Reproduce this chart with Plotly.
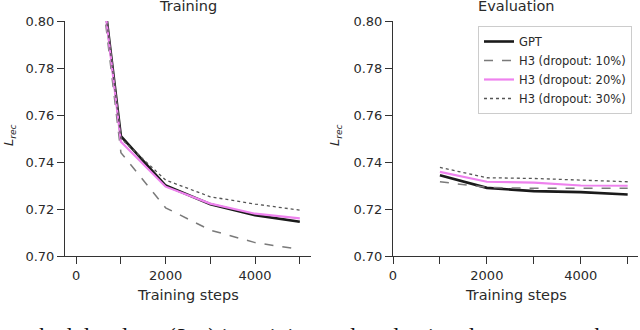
import plotly.graph_objects as go

# ---- data ----
steps_train = [0, 1000, 2000, 3000, 4000, 5000]
steps_eval = [1000, 2000, 3000, 4000, 5000]

train_gpt = [0.908, 0.751, 0.730, 0.722, 0.7174, 0.7146]
train_h3_10 = [0.905, 0.744, 0.7205, 0.711, 0.7057, 0.7028]
train_h3_20 = [0.908, 0.7486, 0.7295, 0.7223, 0.718, 0.716]
train_h3_30 = [0.908, 0.750, 0.7323, 0.7252, 0.7221, 0.7195]

eval_gpt = [0.7344, 0.729, 0.7276, 0.7272, 0.7262]
eval_h3_10 = [0.7316, 0.7292, 0.7288, 0.7288, 0.7288]
eval_h3_20 = [0.7358, 0.7316, 0.7312, 0.7300, 0.7299]
eval_h3_30 = [0.7377, 0.7333, 0.7330, 0.7323, 0.7316]

names = ["GPT", "H3 (dropout: 10%)", "H3 (dropout: 20%)", "H3 (dropout: 30%)"]
panel_titles = ["Training", "Evaluation"]
x_tickvals = [0, 1000, 2000, 3000, 4000, 5000]
x_ticktext = ["0", "", "2000", "", "4000", ""]
y_tickvals = [0.70, 0.72, 0.74, 0.76, 0.78, 0.80]
caption_pre = "sked data loss"
caption_main = "(<i>L</i><sub>rec</sub>) in training and evaluation datasets over the"

styles = [
    dict(color="#1a1a1a", width=2.6, dash="solid"),
    dict(color="#7a7a7a", width=1.5, dash="dash"),
    dict(color="#ee82ee", width=2.2, dash="solid"),
    dict(color="#555555", width=1.3, dash="dot"),
]

fig = go.Figure()

train_series = [train_gpt, train_h3_10, train_h3_20, train_h3_30]
eval_series = [eval_gpt, eval_h3_10, eval_h3_20, eval_h3_30]

for i, ys in enumerate(train_series):
    fig.add_trace(go.Scatter(x=steps_train, y=ys, mode="lines", name=names[i],
                             line=styles[i], showlegend=False, hoverinfo="skip",
                             xaxis="x", yaxis="y"))
for i, ys in enumerate(eval_series):
    fig.add_trace(go.Scatter(x=steps_eval, y=ys, mode="lines", name=names[i],
                             line=styles[i], showlegend=True, hoverinfo="skip",
                             xaxis="x2", yaxis="y2"))

W, H = 640, 330
ydom = [(H - 256) / H, (H - 21) / H]
TXT = "#2a2a2a"

axis_common = dict(
    showline=True, linecolor="#333333", linewidth=1,
    ticks="outside", ticklen=7, tickwidth=1, tickcolor="#333333",
    showgrid=False, zeroline=False, mirror=False,
    tickfont=dict(family="DejaVu Sans", size=13, color=TXT),
)

fig.update_layout(
    width=W, height=H,
    margin=dict(l=0, r=0, t=0, b=0, autoexpand=False),
    plot_bgcolor="white", paper_bgcolor="white",
    xaxis=dict(domain=[65 / W, 311 / W], range=[-250, 5250],
               tickvals=x_tickvals, ticktext=x_ticktext, anchor="y",
               **axis_common),
    yaxis=dict(domain=ydom, range=[0.70, 0.80], tickvals=y_tickvals,
               tickformat=".2f", anchor="x", **axis_common),
    xaxis2=dict(domain=[393 / W, 638 / W], range=[0, 5220],
                tickvals=x_tickvals, ticktext=x_ticktext, anchor="y2",
                **axis_common),
    yaxis2=dict(domain=ydom, range=[0.70, 0.80], tickvals=y_tickvals,
                tickformat=".2f", anchor="x2", **axis_common),
    legend=dict(x=632 / W, y=1 - 26 / H, xanchor="right", yanchor="top",
                bordercolor="#cccccc", borderwidth=1, bgcolor="white",
                font=dict(family="DejaVu Sans", size=11.5, color=TXT),
                tracegroupgap=0, itemwidth=30),
)

annotations = []
for cx, t in [(188, panel_titles[0]), (516, panel_titles[1])]:
    annotations.append(dict(x=cx / W, y=1 - 6 / H, xref="paper", yref="paper",
                            text=t, showarrow=False, xanchor="center", yanchor="middle",
                            font=dict(family="DejaVu Sans", size=14.5, color=TXT)))
for cx in [188, 516]:
    annotations.append(dict(x=cx / W, y=1 - 295 / H, xref="paper", yref="paper",
                            text="Training steps", showarrow=False,
                            xanchor="center", yanchor="middle",
                            font=dict(family="DejaVu Sans", size=14.5, color=TXT)))
for cx in [9, 335]:
    annotations.append(dict(x=cx / W, y=1 - 135 / H, xref="paper", yref="paper",
                            text="<i>L</i><sub><i>rec</i></sub>", showarrow=False,
                            textangle=-90, xanchor="center", yanchor="middle",
                            font=dict(family="DejaVu Sans", size=13, color=TXT)))
annotations.append(dict(x=160 / W, y=8 / H, xref="paper", yref="paper",
                        text=caption_pre, showarrow=False, xanchor="right", yanchor="top",
                        font=dict(family="Liberation Serif", size=23, color="#111111")))
annotations.append(dict(x=166 / W, y=8 / H, xref="paper", yref="paper",
                        text=caption_main, showarrow=False, xanchor="left", yanchor="top",
                        font=dict(family="Liberation Serif", size=23, color="#111111")))
fig.update_layout(annotations=annotations)

fig.write_html("out.html", config={"displayModeBar": False},
               post_script="document.body.style.margin='0';document.body.style.overflow='hidden';")
